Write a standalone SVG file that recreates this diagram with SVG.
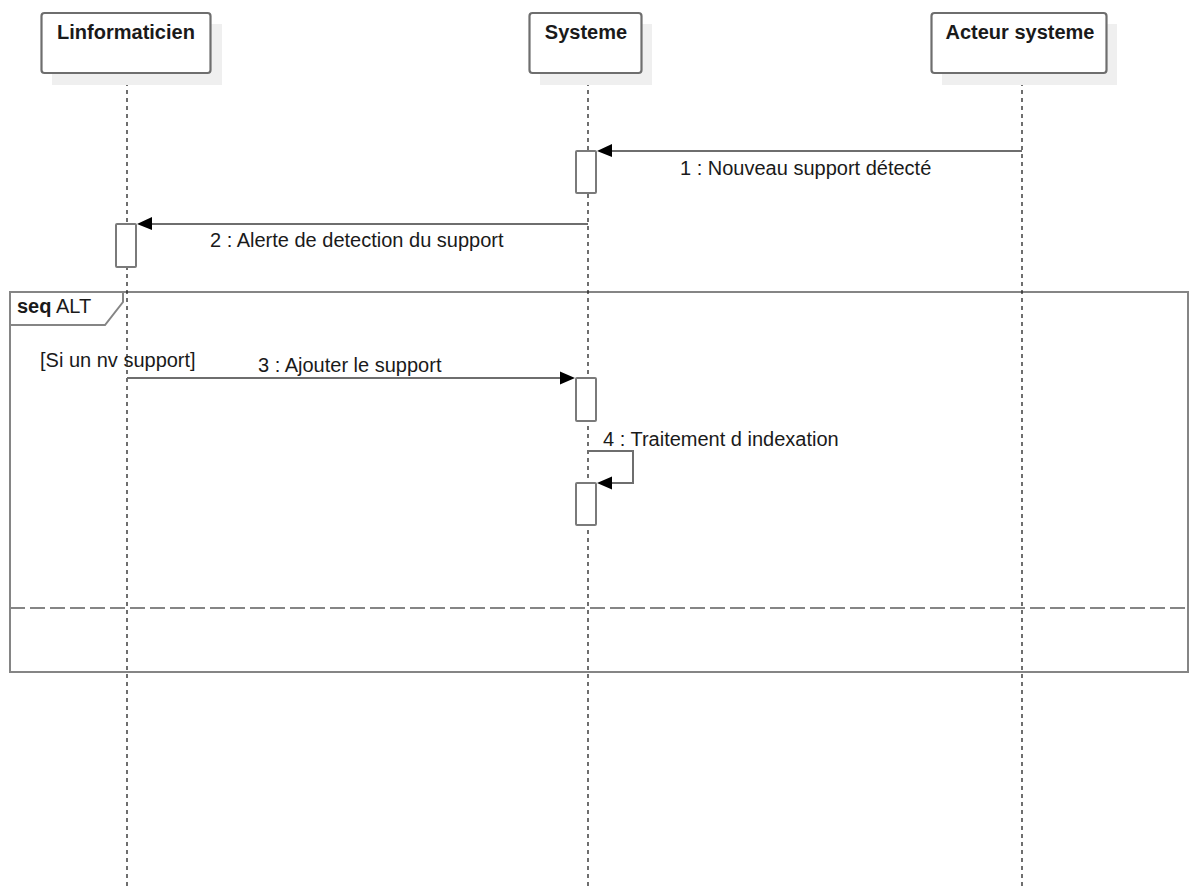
<svg xmlns="http://www.w3.org/2000/svg" width="1196" height="889" viewBox="0 0 1196 889">
<style>
text{font-family:"Liberation Sans",Arial,sans-serif;font-size:20px;fill:#1a1a1a}
.title{font-weight:bold;text-anchor:middle}
.shadow{fill:#efefef}
.box{fill:#fff;stroke:#6e6e6e;stroke-width:2.2}
.life{stroke:#222;stroke-width:1.3;stroke-dasharray:4 4;fill:none}
.act{fill:#fff;stroke:#7a7a7a;stroke-width:2}
.msg{stroke:#6e6e6e;stroke-width:2;fill:none}
.head{fill:#000}
.frame{fill:none;stroke:#858585;stroke-width:2}
.sep{stroke:#858585;stroke-width:2.2;stroke-dasharray:15 5;fill:none}
</style>
<rect width="1196" height="889" fill="#fff"/>
<g id="frame">
<rect class="frame" x="10" y="292" width="1178" height="380"/>
<path class="frame" d="M10,325 L105,325 L123,302 L123,292"/>
<text x="17" y="313"><tspan font-weight="bold">seq</tspan> ALT</text>
<line class="sep" x1="10" y1="608" x2="1188" y2="608"/>
<text x="40" y="367">[Si un nv support]</text>
</g>
<g id="lifelines">
<line class="life" x1="127" y1="74" x2="127" y2="889"/>
<line class="life" x1="588" y1="74" x2="588" y2="889"/>
<line class="life" x1="1022" y1="74" x2="1022" y2="889"/>
</g>
<g id="Linformaticien">
<rect class="shadow" x="52" y="24" width="170" height="61"/>
<rect class="box" x="41.5" y="13" width="169" height="60" rx="3"/>
<text class="title" x="126" y="39">Linformaticien</text>
</g>
<g id="Systeme">
<rect class="shadow" x="540" y="24" width="112" height="61"/>
<rect class="box" x="529.5" y="13" width="112" height="60" rx="3"/>
<text class="title" x="586" y="39">Systeme</text>
</g>
<g id="ActeurSysteme">
<rect class="shadow" x="942" y="24" width="175" height="61"/>
<rect class="box" x="931.5" y="13" width="175" height="60" rx="3"/>
<text class="title" x="1020" y="39">Acteur systeme</text>
</g>
<g id="activations">
<rect class="act" x="576" y="151" width="20" height="42" rx="1"/>
<rect class="act" x="116" y="224" width="20" height="43" rx="1"/>
<rect class="act" x="576" y="378" width="20" height="43" rx="1"/>
<rect class="act" x="576" y="483" width="20" height="42" rx="1"/>
</g>
<g id="connectors">
<line class="msg" x1="1022" y1="151" x2="605" y2="151"/>
<polygon class="head" points="597,151 612,144 612,157"/>
<text x="680" y="175">1 : Nouveau support détecté</text>
<line class="msg" x1="588" y1="224" x2="145" y2="224"/>
<polygon class="head" points="137,224 152,217 152,230"/>
<text x="210" y="247">2 : Alerte de detection du support</text>
<line class="msg" x1="127" y1="378" x2="566" y2="378"/>
<polygon class="head" points="575,378 560,371.5 560,384.5"/>
<text x="258" y="372">3 : Ajouter le support</text>
<path class="msg" d="M588,451 L633,451 L633,483 L605,483"/>
<polygon class="head" points="597,483 612,476.5 612,489.5"/>
<text x="603" y="446">4 : Traitement d indexation</text>
</g>
</svg>
